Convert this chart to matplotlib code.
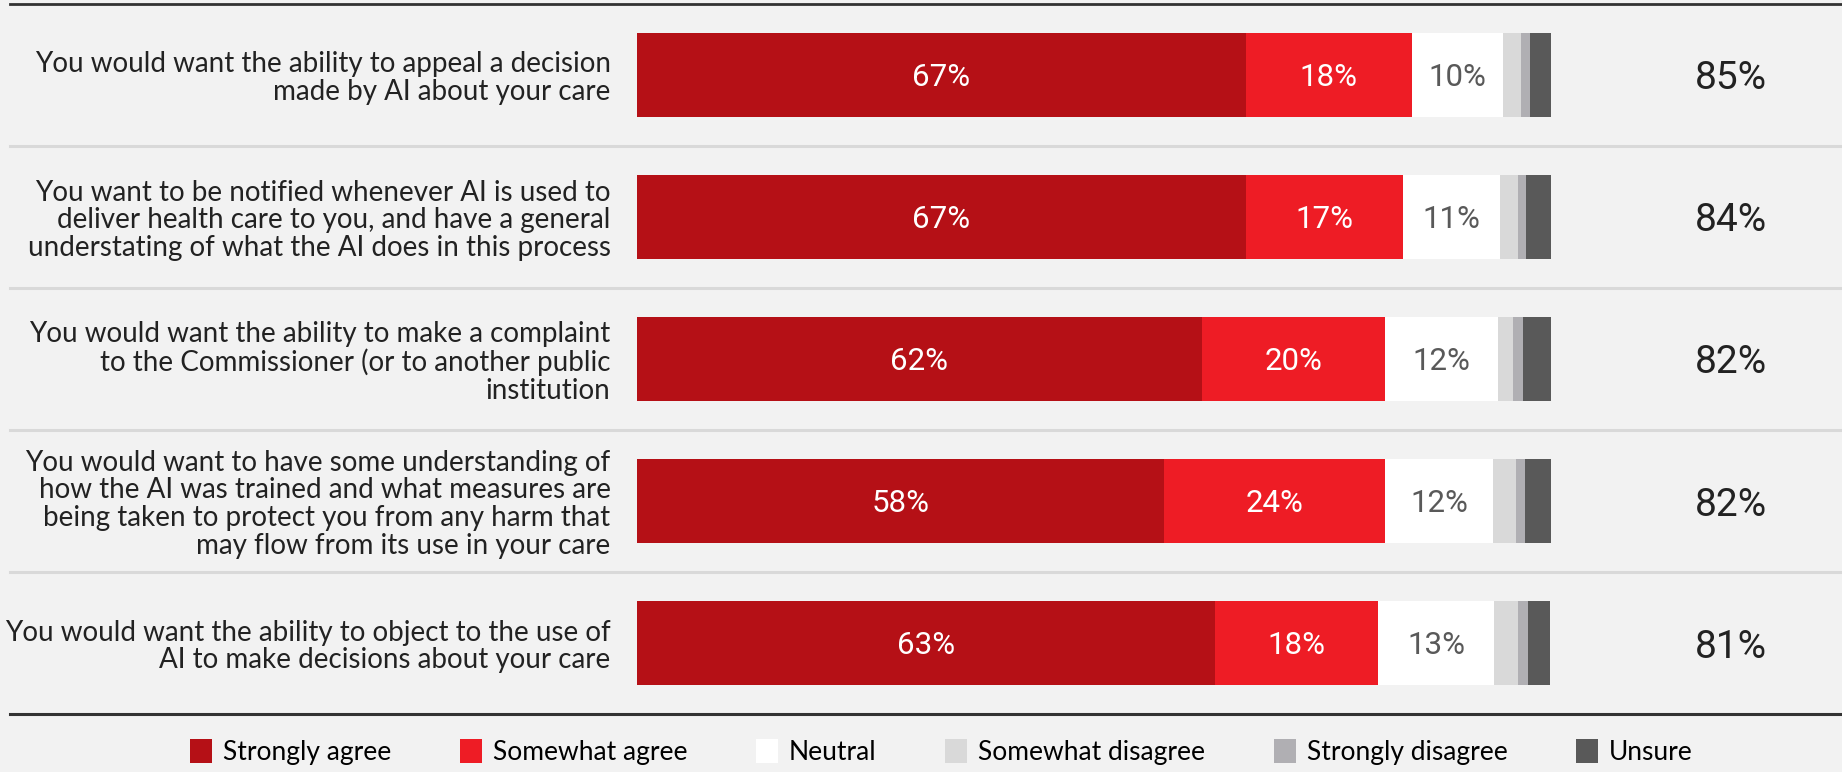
import matplotlib.pyplot as plt
from matplotlib.patches import Patch
import numpy as np

questions = [
    "You would want the ability to appeal a decision\nmade by AI about your care",
    "You want to be notified whenever AI is used to\ndeliver health care to you, and have a general\nunderstating of what the AI does in this process",
    "You would want the ability to make a complaint\nto the Commissioner (or to another public\ninstitution",
    "You would want to have some understanding of\nhow the AI was trained and what measures are\nbeing taken to protect you from any harm that\nmay flow from its use in your care",
    "You would want the ability to object to the use of\nAI to make decisions about your care",
]
categories = ["Strongly agree", "Somewhat agree", "Neutral",
              "Somewhat disagree", "Strongly disagree", "Unsure"]
strongly_agree = [66.6, 66.6, 61.8, 57.7, 63.2]
somewhat_agree = [18.2, 17.2, 20.0, 24.1, 17.9]
neutral = [10.0, 10.6, 12.4, 11.9, 12.7]
somewhat_disagree = [1.9, 2.0, 1.6, 2.5, 2.6]
strongly_disagree = [1.0, 0.9, 1.1, 1.0, 1.1]
unsure = [2.4, 2.7, 3.1, 2.8, 2.4]
total_agree = ["85%", "84%", "82%", "82%", "81%"]

colors = ["#B51016", "#EE1C25", "#FFFFFF", "#D9D9D9", "#B0AFB3", "#595959"]
label_colors = ["white", "white", "#595959", None, None, None]
bg = "#F2F2F2"

plt.rcParams['font.family'] = ['Lato', 'DejaVu Sans']

fig = plt.figure(figsize=(18.42, 7.72), dpi=100, facecolor=bg)
ax = fig.add_axes([637 / 1842, 1 - 714 / 772, 914 / 1842, 710 / 772])
ax.set_facecolor(bg)

series = [strongly_agree, somewhat_agree, neutral,
          somewhat_disagree, strongly_disagree, unsure]
y = np.arange(len(questions))
left = np.zeros(len(questions))
for vals, col, lc in zip(series, colors, label_colors):
    vals = np.array(vals)
    ax.barh(y, vals, left=left, height=0.585, color=col, edgecolor='none')
    if lc:
        for yi, l, v in zip(y, left, vals):
            ax.text(l + v / 2, yi, f"{round(v)}%", ha='center', va='center_baseline',
                    color=lc, fontsize=22.5, family=['Roboto', 'DejaVu Sans'])
    left += vals

for yi, t in zip(y, total_agree):
    ax.text(119.7, yi, t, ha='center', va='center_baseline', fontsize=28,
            color='#222222', family=['Roboto', 'DejaVu Sans'], clip_on=False)

ax.set_xlim(0, 100)
ax.set_ylim(4.5, -0.5)
ax.set_yticks(y)
ax.set_yticklabels(questions, fontsize=20, color='#222222', linespacing=1.08)
ax.tick_params(axis='y', length=0, pad=19)
ax.set_xticks([])
for s in ax.spines.values():
    s.set_visible(False)

x0, x1 = -627 / 914, 1205 / 914
for yl in [0.5, 1.5, 2.5, 3.5]:
    ax.axhline(yl, xmin=x0, xmax=x1, color='#D9D9D9', lw=2.2, clip_on=False)
ax.axhline(-0.5, xmin=x0, xmax=x1, color='#333333', lw=2, clip_on=False)
ax.axhline(4.5, xmin=x0, xmax=x1, color='#333333', lw=2.2, clip_on=False)

handles = [Patch(facecolor=c, edgecolor='none') for c in colors]
fig.legend(handles, categories, loc='center', bbox_to_anchor=(0.511, 0.026),
           ncol=6, frameon=False, fontsize=19, handlelength=0.85, handleheight=1.0,
           handletextpad=0.4, columnspacing=2.6)

fig.savefig("out.png", dpi=100, facecolor=bg)
